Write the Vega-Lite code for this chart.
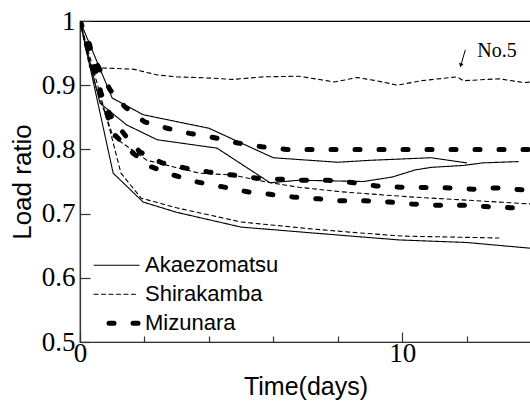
{
  "$schema": "https://vega.github.io/schema/vega-lite/v6.json",
  "width": 451,
  "height": 321,
  "autosize": {"type": "none"},
  "padding": {"left": 80, "top": 21, "right": 0, "bottom": 63},
  "background": "white",
  "config": {"view": {"stroke": "black", "strokeWidth": 1.2}},
  "datasets": {
    "curves": [
      {"id": "A1", "species": "Akaezomatsu", "day": 0, "ratio": 1},
      {"id": "A1", "species": "Akaezomatsu", "day": 1.0, "ratio": 0.88},
      {"id": "A1", "species": "Akaezomatsu", "day": 1.96, "ratio": 0.854},
      {"id": "A1", "species": "Akaezomatsu", "day": 4.0, "ratio": 0.833},
      {"id": "A1", "species": "Akaezomatsu", "day": 6.0, "ratio": 0.787},
      {"id": "A1", "species": "Akaezomatsu", "day": 8.0, "ratio": 0.78},
      {"id": "A1", "species": "Akaezomatsu", "day": 9.0, "ratio": 0.783},
      {"id": "A1", "species": "Akaezomatsu", "day": 10.9, "ratio": 0.787},
      {"id": "A1", "species": "Akaezomatsu", "day": 12.0, "ratio": 0.779},
      {"id": "A2", "species": "Akaezomatsu", "day": 0, "ratio": 1},
      {"id": "A2", "species": "Akaezomatsu", "day": 0.62, "ratio": 0.872},
      {"id": "A2", "species": "Akaezomatsu", "day": 1.45, "ratio": 0.838},
      {"id": "A2", "species": "Akaezomatsu", "day": 2.4, "ratio": 0.815},
      {"id": "A2", "species": "Akaezomatsu", "day": 4.25, "ratio": 0.802},
      {"id": "A2", "species": "Akaezomatsu", "day": 5.9, "ratio": 0.748},
      {"id": "A2", "species": "Akaezomatsu", "day": 6.8, "ratio": 0.752},
      {"id": "A2", "species": "Akaezomatsu", "day": 8.8, "ratio": 0.75},
      {"id": "A2", "species": "Akaezomatsu", "day": 9.7, "ratio": 0.757},
      {"id": "A2", "species": "Akaezomatsu", "day": 10.4, "ratio": 0.768},
      {"id": "A2", "species": "Akaezomatsu", "day": 10.9, "ratio": 0.772},
      {"id": "A2", "species": "Akaezomatsu", "day": 11.9, "ratio": 0.775},
      {"id": "A2", "species": "Akaezomatsu", "day": 12.5, "ratio": 0.779},
      {"id": "A2", "species": "Akaezomatsu", "day": 13.6, "ratio": 0.781},
      {"id": "A3", "species": "Akaezomatsu", "day": 0, "ratio": 1},
      {"id": "A3", "species": "Akaezomatsu", "day": 1.03, "ratio": 0.763},
      {"id": "A3", "species": "Akaezomatsu", "day": 1.96, "ratio": 0.718},
      {"id": "A3", "species": "Akaezomatsu", "day": 3.0, "ratio": 0.702},
      {"id": "A3", "species": "Akaezomatsu", "day": 5.0, "ratio": 0.679},
      {"id": "A3", "species": "Akaezomatsu", "day": 8.4, "ratio": 0.665},
      {"id": "A3", "species": "Akaezomatsu", "day": 9.9, "ratio": 0.659},
      {"id": "A3", "species": "Akaezomatsu", "day": 12.0, "ratio": 0.655},
      {"id": "A3", "species": "Akaezomatsu", "day": 14.0, "ratio": 0.646},
      {"id": "S1", "species": "Shirakamba", "day": 0, "ratio": 1},
      {"id": "S1", "species": "Shirakamba", "day": 0.3, "ratio": 0.928},
      {"id": "S1", "species": "Shirakamba", "day": 0.62, "ratio": 0.927},
      {"id": "S1", "species": "Shirakamba", "day": 1.65, "ratio": 0.925},
      {"id": "S1", "species": "Shirakamba", "day": 2.4, "ratio": 0.916},
      {"id": "S1", "species": "Shirakamba", "day": 3.0, "ratio": 0.913},
      {"id": "S1", "species": "Shirakamba", "day": 4.1, "ratio": 0.911},
      {"id": "S1", "species": "Shirakamba", "day": 4.75, "ratio": 0.909},
      {"id": "S1", "species": "Shirakamba", "day": 5.7, "ratio": 0.913},
      {"id": "S1", "species": "Shirakamba", "day": 6.8, "ratio": 0.914},
      {"id": "S1", "species": "Shirakamba", "day": 7.9, "ratio": 0.905},
      {"id": "S1", "species": "Shirakamba", "day": 8.6, "ratio": 0.912},
      {"id": "S1", "species": "Shirakamba", "day": 9.2, "ratio": 0.907},
      {"id": "S1", "species": "Shirakamba", "day": 9.85, "ratio": 0.9},
      {"id": "S1", "species": "Shirakamba", "day": 10.6, "ratio": 0.907},
      {"id": "S1", "species": "Shirakamba", "day": 11.7, "ratio": 0.913},
      {"id": "S1", "species": "Shirakamba", "day": 11.9, "ratio": 0.907},
      {"id": "S1", "species": "Shirakamba", "day": 13.0, "ratio": 0.91},
      {"id": "S1", "species": "Shirakamba", "day": 13.8, "ratio": 0.904},
      {"id": "S1", "species": "Shirakamba", "day": 14.0, "ratio": 0.905},
      {"id": "S2", "species": "Shirakamba", "day": 0, "ratio": 1},
      {"id": "S2", "species": "Shirakamba", "day": 0.47, "ratio": 0.9},
      {"id": "S2", "species": "Shirakamba", "day": 1.03, "ratio": 0.82},
      {"id": "S2", "species": "Shirakamba", "day": 2.08, "ratio": 0.783},
      {"id": "S2", "species": "Shirakamba", "day": 3.7, "ratio": 0.763},
      {"id": "S2", "species": "Shirakamba", "day": 4.75, "ratio": 0.76},
      {"id": "S2", "species": "Shirakamba", "day": 5.8, "ratio": 0.749},
      {"id": "S2", "species": "Shirakamba", "day": 6.8, "ratio": 0.741},
      {"id": "S2", "species": "Shirakamba", "day": 8.1, "ratio": 0.734},
      {"id": "S2", "species": "Shirakamba", "day": 10.25, "ratio": 0.726},
      {"id": "S2", "species": "Shirakamba", "day": 12.0, "ratio": 0.721},
      {"id": "S2", "species": "Shirakamba", "day": 14.0, "ratio": 0.715},
      {"id": "S3", "species": "Shirakamba", "day": 0, "ratio": 1},
      {"id": "S3", "species": "Shirakamba", "day": 0.93, "ratio": 0.83},
      {"id": "S3", "species": "Shirakamba", "day": 1.27, "ratio": 0.763},
      {"id": "S3", "species": "Shirakamba", "day": 1.9, "ratio": 0.724},
      {"id": "S3", "species": "Shirakamba", "day": 3.0, "ratio": 0.709},
      {"id": "S3", "species": "Shirakamba", "day": 5.0, "ratio": 0.687},
      {"id": "S3", "species": "Shirakamba", "day": 7.0, "ratio": 0.677},
      {"id": "S3", "species": "Shirakamba", "day": 8.4, "ratio": 0.671},
      {"id": "S3", "species": "Shirakamba", "day": 10.0, "ratio": 0.665},
      {"id": "S3", "species": "Shirakamba", "day": 13.0, "ratio": 0.662},
      {"id": "M1", "species": "Mizunara", "day": 0, "ratio": 1},
      {"id": "M1", "species": "Mizunara", "day": 0.25, "ratio": 0.96},
      {"id": "M1", "species": "Mizunara", "day": 0.93, "ratio": 0.893},
      {"id": "M1", "species": "Mizunara", "day": 1.4, "ratio": 0.866},
      {"id": "M1", "species": "Mizunara", "day": 2.0, "ratio": 0.843},
      {"id": "M1", "species": "Mizunara", "day": 2.7, "ratio": 0.833},
      {"id": "M1", "species": "Mizunara", "day": 3.4, "ratio": 0.825},
      {"id": "M1", "species": "Mizunara", "day": 4.1, "ratio": 0.819},
      {"id": "M1", "species": "Mizunara", "day": 4.9, "ratio": 0.81},
      {"id": "M1", "species": "Mizunara", "day": 5.65, "ratio": 0.804},
      {"id": "M1", "species": "Mizunara", "day": 6.4, "ratio": 0.8},
      {"id": "M1", "species": "Mizunara", "day": 14.0, "ratio": 0.8},
      {"id": "M2", "species": "Mizunara", "day": 0, "ratio": 1},
      {"id": "M2", "species": "Mizunara", "day": 0.3, "ratio": 0.963},
      {"id": "M2", "species": "Mizunara", "day": 0.65, "ratio": 0.888},
      {"id": "M2", "species": "Mizunara", "day": 0.93, "ratio": 0.854},
      {"id": "M2", "species": "Mizunara", "day": 1.4, "ratio": 0.822},
      {"id": "M2", "species": "Mizunara", "day": 1.86, "ratio": 0.796},
      {"id": "M2", "species": "Mizunara", "day": 2.55, "ratio": 0.779},
      {"id": "M2", "species": "Mizunara", "day": 3.26, "ratio": 0.771},
      {"id": "M2", "species": "Mizunara", "day": 3.98, "ratio": 0.765},
      {"id": "M2", "species": "Mizunara", "day": 4.75, "ratio": 0.76},
      {"id": "M2", "species": "Mizunara", "day": 5.5, "ratio": 0.755},
      {"id": "M2", "species": "Mizunara", "day": 6.9, "ratio": 0.752},
      {"id": "M2", "species": "Mizunara", "day": 7.7, "ratio": 0.752},
      {"id": "M2", "species": "Mizunara", "day": 8.5, "ratio": 0.748},
      {"id": "M2", "species": "Mizunara", "day": 9.2, "ratio": 0.743},
      {"id": "M2", "species": "Mizunara", "day": 9.94, "ratio": 0.741},
      {"id": "M2", "species": "Mizunara", "day": 11.5, "ratio": 0.74},
      {"id": "M2", "species": "Mizunara", "day": 12.2, "ratio": 0.738},
      {"id": "M2", "species": "Mizunara", "day": 12.9, "ratio": 0.74},
      {"id": "M2", "species": "Mizunara", "day": 14.0, "ratio": 0.736},
      {"id": "M3", "species": "Mizunara", "day": 0, "ratio": 1},
      {"id": "M3", "species": "Mizunara", "day": 0.4, "ratio": 0.927},
      {"id": "M3", "species": "Mizunara", "day": 0.87, "ratio": 0.85},
      {"id": "M3", "species": "Mizunara", "day": 1.09, "ratio": 0.822},
      {"id": "M3", "species": "Mizunara", "day": 1.65, "ratio": 0.794},
      {"id": "M3", "species": "Mizunara", "day": 2.2, "ratio": 0.773},
      {"id": "M3", "species": "Mizunara", "day": 2.9, "ratio": 0.76},
      {"id": "M3", "species": "Mizunara", "day": 3.66, "ratio": 0.749},
      {"id": "M3", "species": "Mizunara", "day": 4.4, "ratio": 0.742},
      {"id": "M3", "species": "Mizunara", "day": 5.2, "ratio": 0.734},
      {"id": "M3", "species": "Mizunara", "day": 5.9, "ratio": 0.73},
      {"id": "M3", "species": "Mizunara", "day": 6.6, "ratio": 0.726},
      {"id": "M3", "species": "Mizunara", "day": 7.4, "ratio": 0.723},
      {"id": "M3", "species": "Mizunara", "day": 8.1, "ratio": 0.72},
      {"id": "M3", "species": "Mizunara", "day": 8.85, "ratio": 0.72},
      {"id": "M3", "species": "Mizunara", "day": 9.6, "ratio": 0.718},
      {"id": "M3", "species": "Mizunara", "day": 10.3, "ratio": 0.715},
      {"id": "M3", "species": "Mizunara", "day": 11.1, "ratio": 0.713},
      {"id": "M3", "species": "Mizunara", "day": 11.9, "ratio": 0.713},
      {"id": "M3", "species": "Mizunara", "day": 12.6, "ratio": 0.711},
      {"id": "M3", "species": "Mizunara", "day": 13.4, "ratio": 0.709},
      {"id": "M3", "species": "Mizunara", "day": 14.0, "ratio": 0.708}
    ]
  },
  "layer": [
    {
      "data": {"name": "curves"},
      "mark": {"type": "line", "color": "black", "strokeCap": "round", "clip": true},
      "encoding": {
        "x": {
          "field": "day", "type": "quantitative",
          "scale": {"domain": [0, 14], "nice": false, "zero": false},
          "axis": {
            "title": "Time(days)",
            "values": [0, 1, 2, 3, 4, 5, 6, 7, 8, 9, 10, 11, 12, 13, 14],
            "labelExpr": "datum.value % 5 === 0 ? datum.label : ''",
            "tickSize": {"condition": {"test": "datum.value % 5 === 0", "value": -10}, "value": -6},
            "labelFont": "Liberation Serif", "labelFontSize": 27, "labelColor": "black",
            "labelPadding": 8, "labelFlush": false, "labelOverlap": false, "labelBound": false,
            "grid": false, "domainColor": "#333", "domainWidth": 1.2, "tickColor": "#333", "tickWidth": 1.2,
            "titleFont": "Liberation Sans", "titleFontSize": 25, "titleFontWeight": "normal", "titleColor": "black", "titlePadding": 4
          }
        },
        "y": {
          "field": "ratio", "type": "quantitative",
          "scale": {"domain": [0.5, 1], "nice": false, "zero": false},
          "axis": {
            "title": "Load ratio",
            "values": [0.5, 0.55, 0.6, 0.65, 0.7, 0.75, 0.8, 0.85, 0.9, 0.95, 1.0],
            "labelExpr": "abs(datum.value*10 - round(datum.value*10)) < 0.001 ? (datum.value > 0.999 ? '1' : format(datum.value, '.1f')) : ''",
            "tickSize": {"condition": {"test": "abs(datum.value*10 - round(datum.value*10)) < 0.001", "value": -10}, "value": -6},
            "labelFont": "Liberation Serif", "labelFontSize": 27, "labelColor": "black",
            "labelPadding": 15, "labelFlush": false, "labelOverlap": false, "labelBound": false,
            "grid": false, "domainColor": "#333", "domainWidth": 1.2, "tickColor": "#333", "tickWidth": 1.2,
            "titleFont": "Liberation Sans", "titleFontSize": 26, "titleFontWeight": "normal", "titleColor": "black", "titlePadding": 6
          }
        },
        "detail": {"field": "id", "type": "nominal"},
        "strokeWidth": {"condition": {"test": "datum.species === 'Mizunara'", "value": 5}, "value": 1.1},
        "strokeDash": {
          "field": "species", "type": "nominal",
          "scale": {"domain": ["Akaezomatsu", "Shirakamba", "Mizunara"], "range": [[1, 0], [4, 3.5], [5, 19]]},
          "legend": {
            "title": null, "orient": "none", "legendX": 13, "legendY": 230,
            "symbolType": "stroke", "symbolSize": 2025, "symbolStrokeColor": "black", "symbolStrokeWidth": 1.1,
            "labelFont": "Liberation Sans", "labelFontSize": 22, "labelColor": "black", "labelOffset": 5,
            "padding": 0, "rowPadding": 0, "clipHeight": 28.5,
            "encode": {
              "symbols": {
                "update": {
                  "strokeWidth": {"signal": "(datum.value === 'Mizunara' ? 5 : 1.1)"},
                  "strokeCap": {"value": "round"},
                  "strokeDashOffset": {"signal": "(datum.value === 'Mizunara' ? 9 : 0)"}
                }
              }
            }
          }
        }
      }
    },
    {
      "data": {"values": [{}]},
      "mark": {"type": "text", "font": "Liberation Serif", "fontSize": 20, "align": "left", "baseline": "alphabetic", "color": "black"},
      "encoding": {
        "x": {"datum": 12.33, "type": "quantitative"},
        "y": {"datum": 0.944, "type": "quantitative"},
        "text": {"value": "No.5"}
      }
    },
    {
      "data": {"values": [{}]},
      "mark": {"type": "rule", "color": "black", "strokeWidth": 1},
      "encoding": {
        "x": {"datum": 11.96, "type": "quantitative"},
        "y": {"datum": 0.955, "type": "quantitative"},
        "x2": {"datum": 11.83},
        "y2": {"datum": 0.932}
      }
    },
    {
      "data": {"values": [{}]},
      "mark": {"type": "point", "shape": "triangle-down", "filled": true, "color": "black", "size": 22, "angle": 14, "opacity": 1},
      "encoding": {
        "x": {"datum": 11.82, "type": "quantitative"},
        "y": {"datum": 0.931, "type": "quantitative"}
      }
    }
  ]
}
